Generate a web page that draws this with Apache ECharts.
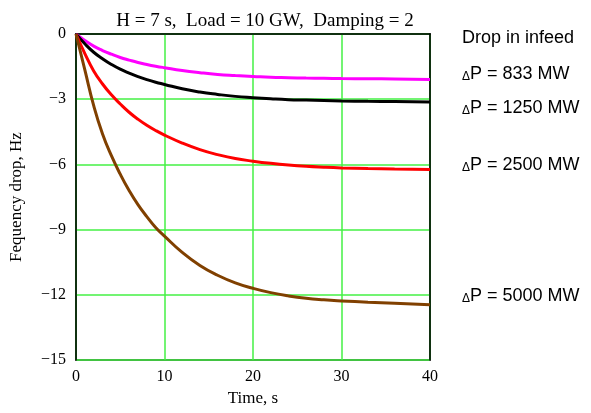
<!DOCTYPE html>
<html>
<head>
<meta charset="utf-8">
<script src="https://cdn.jsdelivr.net/npm/echarts@6/dist/echarts.min.js"></script>
<style>
  html, body { margin: 0; padding: 0; background: #fff; }
  #chart { width: 591px; height: 413px; }
</style>
</head>
<body>
<div id="chart"></div>
<script>
// time axis samples, s
const times = [0, 1, 2, 3, 4, 5, 6, 7, 8, 9, 10, 12, 14, 16, 18, 20, 22, 24, 26, 28, 30, 33, 36, 40];
// frequency drop, Hz
const drop833 = [0, -0.3, -0.56, -0.76, -0.93, -1.08, -1.2, -1.31, -1.4, -1.48, -1.55, -1.68, -1.78, -1.86, -1.91, -1.95, -1.99, -2.01, -2.03, -2.04, -2.05, -2.06, -2.07, -2.09];
const drop1250 = [0, -0.45, -0.84, -1.14, -1.4, -1.62, -1.8, -1.96, -2.1, -2.22, -2.32, -2.52, -2.67, -2.78, -2.87, -2.93, -2.98, -3.02, -3.04, -3.06, -3.08, -3.1, -3.11, -3.13];
const drop2500 = [0, -0.9, -1.7, -2.3, -2.8, -3.22, -3.6, -3.92, -4.2, -4.44, -4.65, -5.02, -5.32, -5.55, -5.73, -5.85, -5.95, -6.03, -6.09, -6.13, -6.16, -6.19, -6.21, -6.24];
const drop5000 = [0, -1.65, -3.3, -4.6, -5.6, -6.45, -7.2, -7.85, -8.4, -8.9, -9.3, -10.05, -10.65, -11.1, -11.45, -11.7, -11.9, -12.05, -12.16, -12.23, -12.28, -12.34, -12.39, -12.46];

const xTicks = [0, 10, 20, 30, 40];
const yTicks = [0, -3, -6, -9, -12, -15];
const labels = ['833', '1250', '2500', '5000'];

const pairs = (ys) => times.map((t, i) => [t, ys[i]]);

const chart = echarts.init(document.getElementById('chart'));

function line(name, ys, color) {
    return {
        name: name,
        type: 'line',
        data: pairs(ys),
        smooth: true,
        showSymbol: false,
        lineStyle: { color: color, width: 3 },
        z: 3
    };
}

// right-hand labels, y = vertical centre of the text
function legendText(txt, y) {
    return {
        type: 'text',
        x: 462,
        y: y,
        style: {
            text: '{d|Δ}{t|P = ' + txt + ' MW}',
            rich: {
                d: { fontSize: 12, lineHeight: 20, verticalAlign: 'bottom', fontFamily: 'Liberation Sans' },
                t: { fontSize: 18, lineHeight: 20, verticalAlign: 'bottom', fontFamily: 'Liberation Sans' }
            },
            verticalAlign: 'middle',
            fill: '#000'
        }
    };
}

const gridLine = { show: true, lineStyle: { color: '#44f044', width: 1.5 } };
const blackLine = { show: true, lineStyle: { color: '#000', width: 1.5 } };

const option = {
    animation: false,
    backgroundColor: '#fff',
    title: {
        text: 'H = 7 s,  Load = 10 GW,  Damping = 2',
        left: 260,
        textAlign: 'center',
        top: 7,
        textStyle: { fontFamily: 'Liberation Serif', fontSize: 19, fontWeight: 'normal', color: '#000' }
    },
    grid: {
        left: 76, right: 161, top: 34, bottom: 53,
        show: true, borderColor: '#000', borderWidth: 1.5
    },
    xAxis: [{
        type: 'value',
        min: 0, max: 40, interval: 10,
        name: 'Time, s',
        nameLocation: 'middle',
        nameGap: 29,
        nameTextStyle: { fontFamily: 'Liberation Serif', fontSize: 17, color: '#000' },
        axisLine: blackLine,
        axisTick: { show: false },
        axisLabel: {
            fontFamily: 'Liberation Serif', fontSize: 16, color: '#000', margin: 9,
            formatter: (v) => xTicks.includes(v) ? String(v) : ''
        },
        splitLine: gridLine
    }],
    yAxis: [{
        type: 'value',
        min: -15, max: 0, interval: 3,
        name: 'Fequency drop, Hz',
        nameLocation: 'middle',
        nameGap: 51,
        nameTextStyle: { fontFamily: 'Liberation Serif', fontSize: 17, color: '#000' },
        axisLine: blackLine,
        axisTick: { show: false },
        axisLabel: {
            fontFamily: 'Liberation Serif', fontSize: 16, color: '#000', margin: 10,
            formatter: (v) => yTicks.includes(v) ? (v < 0 ? '\u2212' + Math.abs(v) : String(v)) : ''
        },
        splitLine: gridLine
    }, {
        // right frame edge drawn over the last grid line
        type: 'value', position: 'right',
        min: -15, max: 0, interval: 3,
        axisLine: blackLine, axisTick: { show: false }, axisLabel: { show: false }, splitLine: { show: false }
    }],
    series: [
        line('833 MW', drop833, '#ff00ff'),
        line('1250 MW', drop1250, '#000000'),
        line('2500 MW', drop2500, '#ff0000'),
        line('5000 MW', drop5000, '#804000')
    ],
    graphic: [
        {
            type: 'text', x: 462, y: 38,
            style: { text: 'Drop in infeed', font: '18px "Liberation Sans", Arial, sans-serif', fill: '#000', verticalAlign: 'middle' }
        },
        legendText(labels[0], 73),
        legendText(labels[1], 107),
        legendText(labels[2], 164),
        legendText(labels[3], 295)
    ]
};

chart.setOption(option);
</script>
</body>
</html>
